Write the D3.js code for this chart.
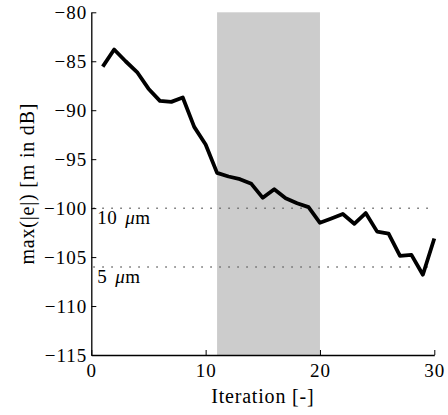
<!DOCTYPE html>
<html><head><meta charset="utf-8">
<script src="https://cdn.jsdelivr.net/npm/d3@7"></script>
</head><body style="margin:0;background:#fff"><svg id="c" width="448" height="415" font-family="Liberation Serif"></svg>
<script>
const iterations = d3.range(1, 31);
const errorDB = [-85.55,-83.8,-85.0,-86.1,-87.8,-89.05,-89.15,-88.7,-91.7,-93.5,
  -96.4,-96.77,-97.04,-97.52,-98.95,-98.07,-98.98,-99.5,-99.9,-101.5,
  -101.06,-100.6,-101.6,-100.5,-102.4,-102.6,-104.87,-104.77,-106.8,-103.1];
const shadeRange = [11, 20];
const refLevels = [-100, 20*Math.log10(5e-6)];
const refLabels = ["10", "5"];
const xTicks = [0, 10, 20, 30];
const yTicks = [-80, -85, -90, -95, -100, -105, -110, -115];

const FONT = "Liberation Serif";
const svg = d3.select("#c");
const m = {l: 91.3, r: 434.3, t: 12.3, b: 355};
const x = d3.scaleLinear().domain([0, 30]).range([m.l, m.r]);
const y = d3.scaleLinear().domain([-115, -80]).range([m.b, m.t]);

svg.append("rect").attr("x", x(shadeRange[0])).attr("y", y(-80))
  .attr("width", x(shadeRange[1]) - x(shadeRange[0])).attr("height", y(-115) - y(-80))
  .attr("fill", "#cccccc");

refLevels.forEach((v, i) => {
  svg.append("line").attr("x1", x(0)+2).attr("x2", x(30)).attr("y1", y(v)).attr("y2", y(v))
    .attr("stroke", "#666").attr("stroke-width", 1.5).attr("stroke-dasharray", "1.5,7.5");
  const t = svg.append("text").attr("x", x(0)+6).attr("y", y(v)+16)
    .attr("font-family", FONT).attr("font-size", 19).attr("letter-spacing", 0.5);
  t.append("tspan").text(refLabels[i]);
  t.append("tspan").attr("dx", 8).attr("font-style", "italic").text("\u03bc");
  t.append("tspan").text("m");
});

const line = d3.line().x((d, i) => x(iterations[i])).y(d => y(d));
svg.append("path").datum(errorDB).attr("d", line).attr("fill", "none")
  .attr("stroke", "#000").attr("stroke-width", 3.8).attr("stroke-linejoin", "round");

const xAxis = d3.axisBottom(x).tickValues(xTicks).tickSizeInner(-5).tickSizeOuter(0).tickPadding(9)
  .tickFormat(d3.format("d"));
const gx = svg.append("g").attr("transform", `translate(0,${m.b})`).call(xAxis);
const yAxis = d3.axisLeft(y).tickValues(yTicks).tickSizeInner(-5).tickSizeOuter(0).tickPadding(4)
  .tickFormat(d => "\u2212" + Math.abs(d));
const gy = svg.append("g").attr("transform", `translate(${m.l},0)`).call(yAxis);
[gx, gy].forEach(g => {
  g.attr("font-family", FONT).attr("font-size", 19);
  g.select(".domain").attr("stroke", "#000").attr("stroke-width", 1.3);
  g.selectAll(".tick line").attr("stroke", "#000").attr("stroke-width", 1);
  g.selectAll(".tick text").attr("font-family", FONT).attr("font-size", 19)
    .attr("letter-spacing", 1).attr("fill", "#000");
});
gy.selectAll(".tick text").attr("dy", "0.35em");

svg.append("text").attr("x", (m.l + m.r)/2).attr("y", 403).attr("text-anchor", "middle")
  .attr("font-family", FONT).attr("font-size", 20).attr("letter-spacing", 0.8).text("Iteration [-]");
svg.append("text").attr("transform", `translate(27,${(m.t+m.b)/2}) rotate(-90)`)
  .attr("text-anchor", "middle").attr("dy", "0.35em")
  .attr("font-family", FONT).attr("font-size", 20).attr("letter-spacing", 0.8).text("max(|e|) [m in dB]");
</script></body></html>
